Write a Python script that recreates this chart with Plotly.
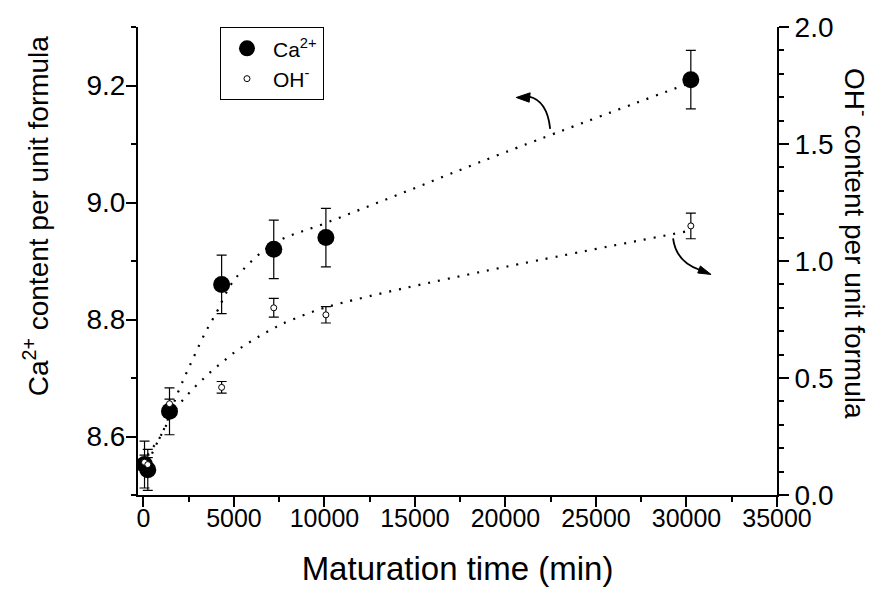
import plotly.graph_objects as go

# ---- data ----
time_min = [60, 240, 1440, 4320, 7200, 10080, 30240]
ca_content = [8.552, 8.543, 8.643, 8.86, 8.92, 8.94, 9.21]
ca_err = [0.04, 0.035, 0.04, 0.05, 0.05, 0.05, 0.05]
oh_content = [0.14, 0.13, 0.39, 0.46, 0.80, 0.77, 1.15]
oh_err = [0.03, 0.03, 0.02, 0.025, 0.04, 0.035, 0.055]

ca_fit_t = [0, 200, 940, 1930, 2690, 3460, 4070, 4400, 4800, 5500, 7200, 10080, 14200, 20000, 30240]
ca_fit = [8.535, 8.566, 8.60, 8.677, 8.73, 8.78, 8.814, 8.835, 8.858, 8.885, 8.93, 8.965, 9.015, 9.086, 9.205]
oh_fit_t = [0, 390, 900, 1770, 2280, 2780, 3330, 3880, 4400, 4930, 5480, 6030, 6590, 7140, 7690,
            8790, 9870, 10970, 14190, 20000, 30240]
oh_fit = [0.10, 0.163, 0.245, 0.365, 0.415, 0.457, 0.498, 0.538, 0.57, 0.604, 0.634, 0.661, 0.687,
          0.71, 0.732, 0.767, 0.797, 0.821, 0.880, 0.975, 1.13]

FONT = "Liberation Sans, Arial, sans-serif"

fig = go.Figure()

fig.add_trace(go.Scatter(x=ca_fit_t, y=ca_fit, mode="lines",
                         line=dict(color="black", width=2.2, dash="2px,8px", shape="spline"),
                         showlegend=False, hoverinfo="skip"))
fig.add_trace(go.Scatter(x=oh_fit_t, y=oh_fit, mode="lines", yaxis="y2",
                         line=dict(color="black", width=2.2, dash="2px,8px", shape="spline"),
                         showlegend=False, hoverinfo="skip"))

fig.add_trace(go.Scatter(x=time_min, y=ca_content, mode="markers", name="Ca<sup>2+</sup>",
                         marker=dict(symbol="circle", size=17, color="black"),
                         error_y=dict(type="data", array=ca_err, color="black", thickness=1.2, width=5)))
fig.add_trace(go.Scatter(x=time_min, y=oh_content, mode="markers", name="OH<sup>-</sup>", yaxis="y2",
                         marker=dict(symbol="circle", size=6, color="white", line=dict(color="black", width=1)),
                         error_y=dict(type="data", array=oh_err, color="black", thickness=1.2, width=5)))

# curved arrows (data units)
def curved_arrow(p0, pc, p1, tip, b1, b2):
    fig.add_shape(type="path", xref="x", yref="y",
                  path=f"M {p0[0]},{p0[1]} Q {pc[0]},{pc[1]} {p1[0]},{p1[1]}",
                  line=dict(color="black", width=1.8))
    fig.add_shape(type="path", xref="x", yref="y",
                  path=f"M {tip[0]},{tip[1]} L {b1[0]},{b1[1]} L {b2[0]},{b2[1]} Z",
                  fillcolor="black", line=dict(color="black", width=1))

curved_arrow((22469, 9.126), (22303, 9.174), (21310, 9.181),
             (20592, 9.1795), (21365, 9.1875), (21310, 9.1715))
curved_arrow((29259, 8.9387), (29425, 8.8983), (30750, 8.8846),
             (31357, 8.877), (30766, 8.8915), (30623, 8.8795))

axis_common = dict(showline=True, linecolor="black", linewidth=2, showgrid=False, zeroline=False,
                   ticks="outside", ticklen=10, tickwidth=1.6, tickcolor="black")
minor_common = dict(ticks="outside", ticklen=5, tickwidth=1.6, tickcolor="black", showgrid=False)

fig.update_layout(
    width=885, height=602,
    margin=dict(l=138, r=108, t=25, b=107),
    plot_bgcolor="white", paper_bgcolor="white",
    font=dict(family=FONT, color="black"),
    xaxis=dict(range=[-300, 35000], dtick=5000, tick0=0, tickformat="d",
               tickfont=dict(size=25, family=FONT), ticklabelstandoff=-10,
               title=dict(text="Maturation time (min)", font=dict(size=33, family=FONT), standoff=26),
               minor=dict(minor_common, dtick=2500), **axis_common),
    yaxis=dict(range=[8.5, 9.3], dtick=0.2, tick0=8.6, tickformat=".1f",
               tickfont=dict(size=28, family=FONT), ticklabelstandoff=-5,
               minor=dict(minor_common, dtick=0.1), **axis_common),
    yaxis2=dict(range=[0, 2.0], dtick=0.5, tick0=0, tickformat=".1f", overlaying="y", side="right",
                tickfont=dict(size=28, family=FONT),
                minor=dict(minor_common, dtick=0.1), **axis_common),
    legend=dict(x=0.128, y=1.0, xanchor="left", yanchor="top", bgcolor="white",
                bordercolor="black", borderwidth=1.2, font=dict(size=21, family=FONT),
                tracegroupgap=0, itemwidth=42),
    annotations=[
        dict(text="Ca<sup>2+</sup> content per unit formula", xref="paper", yref="paper",
             x=(36 - 138) / 639, y=1 - (215 - 25) / 470, xanchor="center", yanchor="middle",
             textangle=-90, showarrow=False, font=dict(size=28, family=FONT)),
        dict(text="OH<sup>-</sup> content per unit formula", xref="paper", yref="paper",
             x=(857 - 138) / 639, y=1 - (242 - 25) / 470, xanchor="center", yanchor="middle",
             textangle=90, showarrow=False, font=dict(size=28, family=FONT)),
    ],
)

fig.write_html("out.html")
